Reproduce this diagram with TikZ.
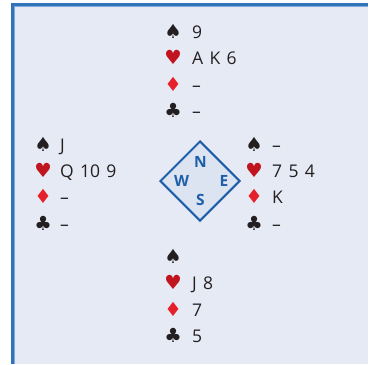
\documentclass[tikz,border=0pt]{standalone}
\usepackage{fontspec}
\setmainfont{Open Sans}
\newfontfamily\suitfont{DejaVu Sans}
\usetikzlibrary{shapes.geometric}
\definecolor{bg}{HTML}{E6EAF5}
\definecolor{frameblue}{HTML}{2F74B8}
\definecolor{framelight}{HTML}{7FA9DA}
\definecolor{ink}{HTML}{231F20}
\definecolor{heartred}{HTML}{C0141E}
\definecolor{diared}{HTML}{E5202A}
\definecolor{compass}{HTML}{1F5EA8}
\definecolor{compassfill}{HTML}{DCE4F2}
\newcommand\myCardFont{\fontsize{17.5}{19}\selectfont\spaceskip=0.36em plus 0pt minus 0pt\relax}
\begin{document}
\begin{tikzpicture}[x=1pt,y=-1pt,
  cardtxt/.style={anchor=base west, inner sep=0pt, text=ink, font=\myCardFont},
  suitsym/.style={anchor=base, inner sep=0pt, font=\suitfont\fontsize{19.5}{22}\selectfont},
  blk/.style={suitsym, text=ink},
  hrt/.style={suitsym, text=heartred},
  dia/.style={suitsym, text=diared},
  dirletter/.style={inner sep=0pt, text=compass, font=\bfseries\fontsize{15.5}{16}\selectfont},
  compassbox/.style={draw=compass, fill=compassfill, line width=2pt, shape=diamond, shape aspect=1, minimum width=80pt, minimum height=80pt, inner sep=0pt}]
\useasboundingbox (0,0) rectangle (369,364);
% frame
\fill[bg] (11,3) rectangle (368,364);
\draw[framelight, line width=1pt] (14.5,364) -- (14.5,6.5) -- (368,6.5);
\draw[frameblue, line width=3.5pt] (12.5,364) -- (12.5,4.5) -- (368,4.5);
% North
\node[blk] (ns) at (173,38) {♠};
\node[cardtxt] (nst) at (192,38) {9};
\node[hrt] (nh) at (173,64.5) {♥};
\node[cardtxt] (nht) at (192,64.5) {A K 6};
\node[dia] (nd) at (173,91) {♦};
\node[cardtxt] (ndt) at (192,91) {–};
\node[blk] (nc) at (173,117.5) {♣};
\node[cardtxt] (nct) at (192,117.5) {–};
% West
\node[blk] (ws) at (43,151) {♠};
\node[cardtxt] (wst) at (60,151) {J};
\node[hrt] (wh) at (43,177) {♥};
\node[cardtxt] (wht) at (60,177) {Q 10 9};
\node[dia] (wd) at (43,203.5) {♦};
\node[cardtxt] (wdt) at (60,203.5) {–};
\node[blk] (wc) at (43,230) {♣};
\node[cardtxt] (wct) at (60,230) {–};
% East
\node[blk] (es) at (254,151) {♠};
\node[cardtxt] (est) at (272,151) {–};
\node[hrt] (eh) at (254,177) {♥};
\node[cardtxt] (eht) at (272,177) {7 5 4};
\node[dia] (ed) at (254,203.5) {♦};
\node[cardtxt] (edt) at (272,203.5) {K};
\node[blk] (ec) at (254,230) {♣};
\node[cardtxt] (ect) at (272,230) {–};
% South
\node[blk] (ss) at (173,263) {♠};
\node[hrt] (sh) at (173,289.5) {♥};
\node[cardtxt] (sht) at (192,289.5) {J 8};
\node[dia] (sd) at (173,316) {♦};
\node[cardtxt] (sdt) at (192,316) {7};
\node[blk] (sc) at (173,342.5) {♣};
\node[cardtxt] (sct) at (192,342.5) {5};
% compass
\node[compassbox] (cmp) at (200,181) {};
\node[dirletter] (cn) at (200.5,162) {N};
\node[dirletter] (cw) at (181.5,181) {W};
\node[dirletter] (ce) at (224,181) {E};
\node[dirletter] (cs) at (200.5,199.5) {S};
\end{tikzpicture}
\end{document}
